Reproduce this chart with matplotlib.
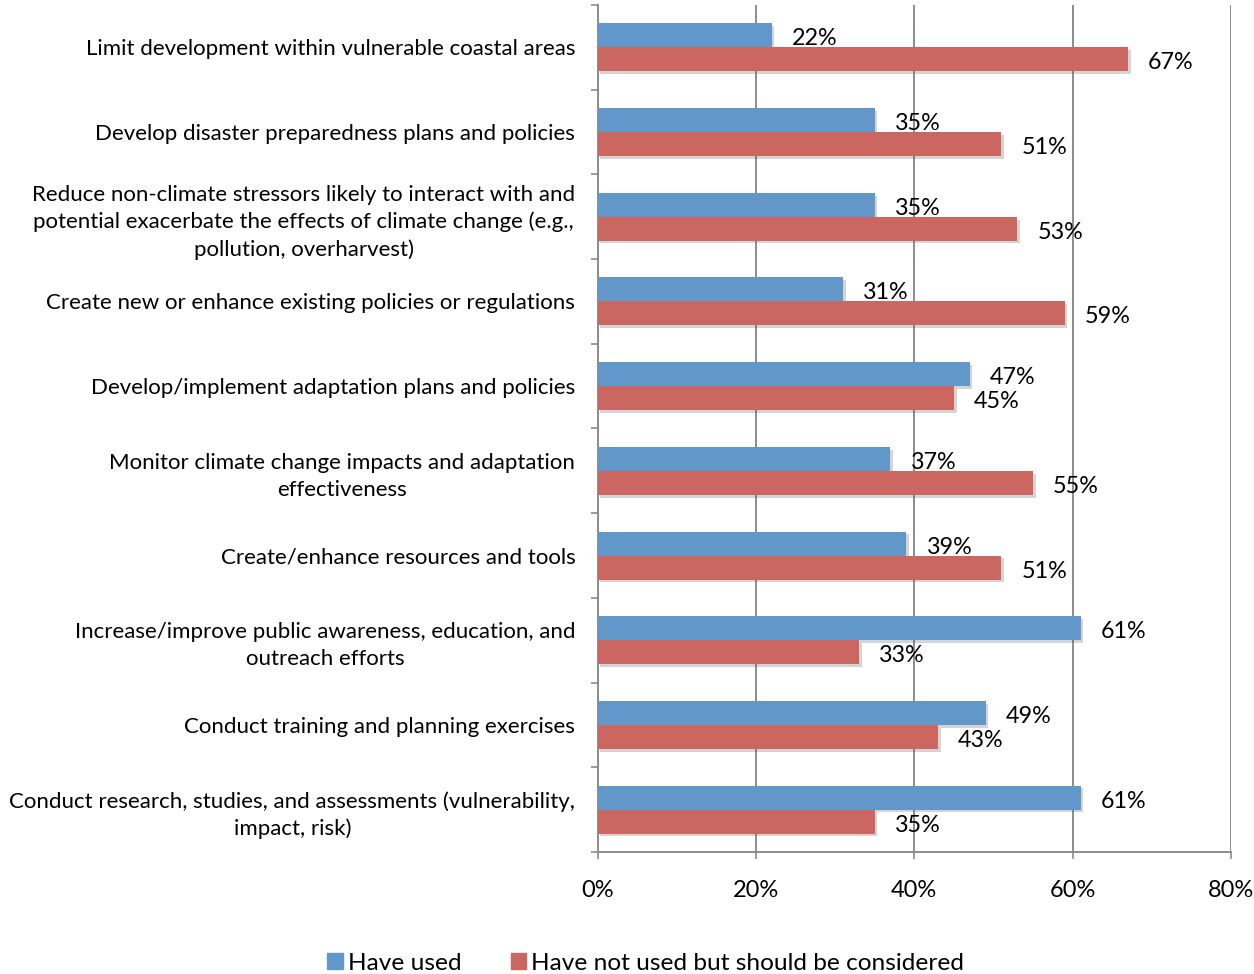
import matplotlib.pyplot as plt
from matplotlib.patches import Patch
from matplotlib import patheffects as pe
import numpy as np

plt.rcParams['font.family'] = ['Lato', 'DejaVu Sans']

# Strategies, top to bottom
categories = [
    "Limit development within vulnerable coastal areas",
    "Develop disaster preparedness plans and policies",
    "Reduce non-climate stressors likely to interact with and\npotential exacerbate the effects of climate change (e.g.,\npollution, overharvest)",
    "Create new or enhance existing policies or regulations",
    "Develop/implement adaptation plans and policies",
    "Monitor climate change impacts and adaptation\neffectiveness",
    "Create/enhance resources and tools",
    "Increase/improve public awareness, education, and\noutreach efforts",
    "Conduct training and planning exercises",
    "Conduct research, studies, and assessments (vulnerability,\nimpact, risk)",
]
have_used = [22, 35, 35, 31, 47, 37, 39, 61, 49, 61]
should_consider = [67, 51, 53, 59, 45, 55, 51, 33, 43, 35]

series_names = ["Have used", "Have not used but should be considered"]
blue = "#6197C9"
red = "#CC6660"
grid_col = "#8C8C8C"

fig = plt.figure(figsize=(12.54, 9.74), dpi=100)
ax = fig.add_axes([597.5 / 1254, 1 - 852 / 974, (1231 - 597.5) / 1254, (852 - 5) / 974])

y = np.arange(len(categories))
h = 0.283
shadow = [pe.SimplePatchShadow(offset=(2, -2), shadow_rgbFace='#555555', alpha=0.25), pe.Normal()]

b1 = ax.barh(y - h / 2, have_used, height=h, color=blue, zorder=3)
b2 = ax.barh(y + h / 2, should_consider, height=h, color=red, zorder=3)
for bars in (b1, b2):
    for b in bars:
        b.set_path_effects(shadow)

for yy, v in zip(y - h / 2, have_used):
    ax.annotate(f"{v}%", (v, yy), xytext=(14.5, -2.5), textcoords='offset points',
                ha='left', va='center', fontsize=16.8, zorder=4)
for yy, v in zip(y + h / 2, should_consider):
    ax.annotate(f"{v}%", (v, yy), xytext=(14.5, -2.5), textcoords='offset points',
                ha='left', va='center', fontsize=16.8, zorder=4)

ax.set_xlim(0, 80)
ax.set_ylim(len(categories) - 0.5, -0.5)

ax.set_xticks([0, 20, 40, 60, 80])
ax.set_xticklabels([f"{t}%" for t in [0, 20, 40, 60, 80]], fontsize=17)
ax.tick_params(axis='x', direction='out', length=5, width=1.2, color=grid_col, pad=15)

# category boundaries get the tick marks, centres carry the labels
ax.set_yticks(np.arange(-0.5, len(categories)), labels=[])
ax.set_yticks(y, labels=categories, minor=True)
ax.tick_params(axis='y', which='major', direction='out', length=5, width=1.2, color=grid_col)
ax.tick_params(axis='y', which='minor', length=0, pad=16, labelsize=16)
for lab in ax.get_yticklabels(minor=True):
    lab.set_multialignment('center')
    lab.set_linespacing(1.42)

ax.grid(axis='x', color=grid_col, linewidth=1.4, zorder=0)
ax.set_axisbelow(True)
for s in ('top', 'right'):
    ax.spines[s].set_visible(False)
for s in ('left', 'bottom'):
    ax.spines[s].set_color(grid_col)
    ax.spines[s].set_linewidth(1.4)

handles = [Patch(color=blue), Patch(color=red)]
fig.legend(handles, series_names, loc='center', bbox_to_anchor=(0.515, 1 - 963 / 974),
           ncol=2, frameon=False, fontsize=17.6, handlelength=0.65, handleheight=0.65,
           handletextpad=0.2, columnspacing=2.0)

fig.savefig("out.png", dpi=100)
